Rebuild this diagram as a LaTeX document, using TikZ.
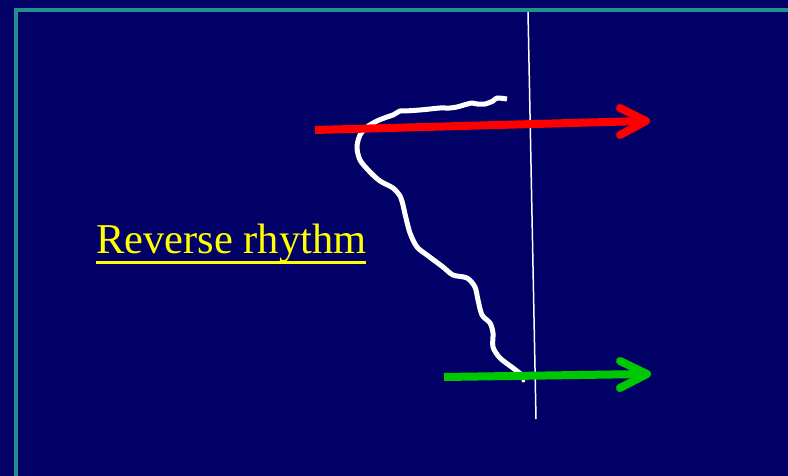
\documentclass[tikz,border=0pt]{standalone}
\usepackage{fontspec}
\setmainfont{Liberation Serif}
\definecolor{navy}{RGB}{0,0,102}
\definecolor{tealb}{RGB}{32,144,144}
\definecolor{redar}{RGB}{255,0,0}
\definecolor{greenar}{RGB}{0,200,0}
\definecolor{yel}{RGB}{255,255,0}
\tikzset{
  shaft/.style={line width=8pt},
  head/.style={line width=8pt, line cap=round, line join=round},
  wave/.style={white, line width=5pt, line join=round},
}
\begin{document}
\begin{tikzpicture}[x=1pt,y=-1pt]
\useasboundingbox (0,0) rectangle (788,476);
\clip (0,0) rectangle (788,476);
\fill[navy] (0,0) rectangle (788,476);
\draw[tealb, line width=4.5pt] (16,490) -- (16,10) -- (800,10);
% vertical line
\coordinate (vtop) at (528,12);
\coordinate (vbot) at (536,419);
\draw[white, line width=1.5pt] (vtop) -- (vbot);
% wavy curve
\draw[wave] plot[smooth, tension=0.5] coordinates {
 (507,99) (497,98) (493,101) (485,104) (477,104) (472,103) (464,105) (457,107)
 (450,108) (440,108) (430,109) (420,110) (405,111) (400,111) (393,115) (387,117)
 (377,121) (367,127) (360,135) (357,147) (360,160) (370,172) (380,181) (393,188)
 (400,196) (403,205) (405,214) (410,233) (417,247) (427,255) (443,267) (453,275)
 (467,278) (475,287) (478,300) (482,315) (490,323) (493,333) (493,347) (500,358)
 (513,368) (522,375)};
\draw[white, line width=3pt] (521,376) -- (524,382);
% red arrow
\coordinate (rs) at (315,130);
\coordinate (rt) at (644,121);
\draw[redar, shaft] (rs) -- (rt);
\draw[redar, head] (620,108) -- (646,121) -- (620,135);
% green arrow
\coordinate (gs) at (444,377);
\coordinate (gt) at (646,374);
\draw[greenar, shaft] (gs) -- (gt);
\draw[greenar, head] (620,361) -- (647,374) -- (620,388);
% label
\node[anchor=base west, inner sep=0pt, text=yel, font=\fontsize{42.5}{46}\selectfont] (lbl) at (96,254) {Reverse rhythm};
\draw[yel, line width=3pt] (96,262) -- (366,262);
\end{tikzpicture}
\end{document}
